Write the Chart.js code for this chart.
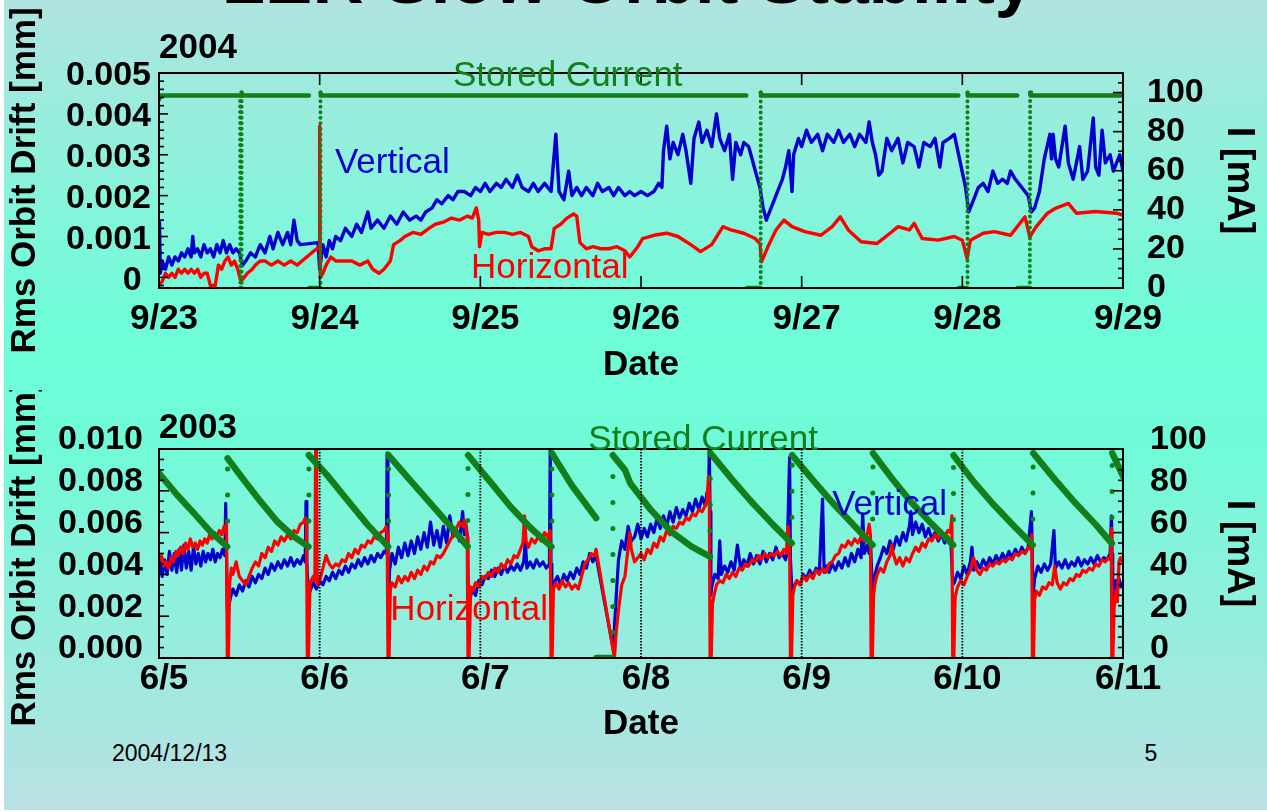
<!DOCTYPE html>
<html>
<head>
<meta charset="utf-8">
<script src="https://cdn.jsdelivr.net/npm/chart.js@4/dist/chart.umd.min.js"></script>
<style>
  html, body { margin: 0; padding: 0; }
  body { width: 1267px; height: 812px; overflow: hidden; position: relative; background: #ffffff;
         font-family: 'Liberation Sans', Arial, Helvetica, sans-serif; }
  #slide { position: absolute; left: 4px; top: 0; width: 1263px; height: 810px;
           background: linear-gradient(to bottom, #b0e4e0 0%, #6efdd8 40%, #70fbd8 55%, #bae0e4 100%); }
  #deco { position: absolute; left: 0; top: 0; }
  canvas { position: absolute; left: 0; }
</style>
</head>
<body>
<div id="slide"></div>
<svg id="deco" width="1267" height="812" xmlns="http://www.w3.org/2000/svg">
  <text x="628" y="2.5" text-anchor="middle" font-family="Liberation Sans, Arial, sans-serif" font-weight="bold" font-size="71" fill="#000">LER Slow Orbit Stability</text>
  <text x="112" y="761" font-family="Liberation Sans, Arial, sans-serif" font-size="23" fill="#000">2004/12/13</text>
  <text x="1151" y="761" text-anchor="middle" font-family="Liberation Sans, Arial, sans-serif" font-size="23" fill="#000">5</text>
</svg>
<canvas id="chart2004" width="1267" height="395" style="top:0px"></canvas>
<canvas id="chart2003" width="1267" height="360" style="top:390px"></canvas>
<script>
// ---- axis tick labels ----
const dates2004 = ['9/23', '9/24', '9/25', '9/26', '9/27', '9/28', '9/29'];
const dates2003 = ['6/5', '6/6', '6/7', '6/8', '6/9', '6/10', '6/11'];
const drift2004Ticks = ['0', '0.001', '0.002', '0.003', '0.004', '0.005'];
const drift2003Ticks = ['0.000', '0.002', '0.004', '0.006', '0.008', '0.010'];
const currentTicks = ['0', '20', '40', '60', '80', '100'];

// ---- 2004: [days since 9/23 00:00, value] ----
// stored current [mA]
const current2004 = [[0,96.5],[0.01,98.5],[0.505,98.5],[0.507,0],[0.512,0],[0.514,100],[0.52,98.5],[0.933,98.5],[0.934,null],[0.935,0],[1.003,0],[1.005,100],[1.01,98.5],[3.655,98.5],[3.657,null],[3.66,0],[3.742,0],[3.745,100],[3.75,98.5],[4.975,98.5],[4.976,null],[4.978,0],[5.03,0],[5.032,100],[5.037,98.5],[5.342,98.5],[5.343,null],[5.345,0],[5.42,0],[5.422,100],[5.427,98.5],[6.0,98.5]];

// rms vertical orbit drift [mm]
const vertical2004 = [[0,0.0004],[0.003,0.00135],[0.008,0.0001],[0.02,0.0004],[0.04,0.0002],[0.06,0.0005],[0.08,0.0003],[0.1,0.0005],[0.12,0.0004],[0.14,0.0006],[0.16,0.0005],[0.18,0.0007],[0.2,0.0005],[0.21,0.001],[0.22,0.0006],[0.24,0.0007],[0.26,0.0005],[0.28,0.0008],[0.3,0.0006],[0.32,0.0007],[0.34,0.0005],[0.36,0.0008],[0.38,0.0006],[0.4,0.0009],[0.42,0.0006],[0.44,0.0008],[0.46,0.0006],[0.48,0.0007],[0.5,0.0006],[0.52,0.0003],[0.54,0.0004],[0.57,0.0006],[0.6,0.0005],[0.63,0.0008],[0.66,0.0006],[0.69,0.001],[0.71,0.0007],[0.74,0.0011],[0.77,0.0008],[0.8,0.0011],[0.82,0.0008],[0.84,0.0014],[0.86,0.0009],[0.88,0.0008],[0.99,0.00085],
[1.0,0.0002],[1.02,0.0008],[1.04,0.0005],[1.06,0.0009],[1.08,0.0007],[1.1,0.001],[1.13,0.0009],[1.16,0.0012],[1.2,0.001],[1.23,0.0013],[1.26,0.0011],[1.3,0.0016],[1.32,0.0012],[1.36,0.0014],[1.4,0.0012],[1.44,0.0015],[1.48,0.0013],[1.52,0.0016],[1.56,0.0014],[1.6,0.0015],[1.63,0.0014],[1.66,0.0016],[1.7,0.0017],[1.73,0.0019],[1.76,0.0018],[1.8,0.002],[1.83,0.0019],[1.86,0.0021],[1.9,0.0021],[1.94,0.002],[1.97,0.0022],[2.0,0.0021],[2.03,0.0023],[2.06,0.0021],[2.1,0.0023],[2.13,0.0022],[2.16,0.0024],[2.2,0.0022],[2.23,0.0025],[2.26,0.0022],[2.3,0.0021],[2.33,0.0023],[2.36,0.0021],[2.4,0.0023],[2.44,0.0021],[2.47,0.0035],[2.49,0.0021],[2.52,0.0019],[2.55,0.0026],[2.57,0.002],[2.6,0.0022],[2.63,0.002],[2.66,0.0022],[2.7,0.002],[2.73,0.0023],[2.76,0.0021],[2.8,0.0022],[2.83,0.002],[2.86,0.0022],[2.9,0.002],[2.93,0.0021],[2.96,0.002],[3.0,0.0021],[3.04,0.002],[3.08,0.0021],[3.11,0.0023],[3.13,0.0022],
[3.14,0.0031],[3.16,0.0037],[3.18,0.0029],[3.2,0.0033],[3.23,0.003],[3.26,0.0035],[3.28,0.0031],[3.31,0.0023],[3.33,0.0034],[3.36,0.0038],[3.38,0.0033],[3.41,0.0036],[3.44,0.0032],[3.47,0.004],[3.49,0.0034],[3.52,0.0031],[3.55,0.0035],[3.57,0.0024],[3.59,0.0033],[3.62,0.003],[3.64,0.0033],[3.67,0.0032],
[3.74,0.0022],[3.76,0.0017],[3.78,0.0014],[3.8,0.0016],[3.83,0.0019],[3.86,0.0022],[3.88,0.0024],[3.9,0.0027],[3.92,0.0031],[3.94,0.0021],[3.95,0.003],[3.98,0.0034],[4.0,0.0032],[4.03,0.0036],[4.06,0.0033],[4.1,0.0035],[4.13,0.0031],[4.16,0.0035],[4.2,0.0033],[4.23,0.0036],[4.26,0.0033],[4.3,0.0035],[4.33,0.0032],[4.36,0.0035],[4.4,0.0033],[4.42,0.0038],[4.44,0.0033],[4.46,0.003],[4.48,0.0025],[4.5,0.0026],[4.53,0.0034],[4.56,0.0031],[4.6,0.0034],[4.63,0.0028],[4.66,0.0033],[4.7,0.0032],[4.73,0.0027],[4.76,0.0033],[4.8,0.0032],[4.83,0.0034],[4.86,0.0027],[4.88,0.0033],[4.92,0.0034],[4.95,0.0035],
[5.02,0.0022],[5.04,0.0016],[5.06,0.0018],[5.1,0.0022],[5.13,0.0023],[5.16,0.0021],[5.19,0.0026],[5.22,0.0023],[5.25,0.0024],[5.28,0.0023],[5.3,0.0026],[5.33,0.0024],[5.41,0.002],[5.43,0.0016],[5.45,0.0017],[5.48,0.0021],[5.51,0.0029],[5.545,0.0035],[5.555,0.0029],[5.565,0.0035],[5.58,0.0029],[5.6,0.0027],[5.64,0.0037],[5.66,0.0028],[5.69,0.0024],[5.73,0.0032],[5.75,0.0024],[5.78,0.0026],[5.815,0.0039],[5.83,0.0027],[5.85,0.0025],[5.87,0.0036],[5.89,0.0028],[5.92,0.003],[5.94,0.0026],[5.98,0.003],[6.0,0.0026]];

// rms horizontal orbit drift [mm]
const horizontal2004 = [[0,-0.0002],[0.02,-0.0001],[0.04,0.0001],[0.06,0.0],[0.08,0.0001],[0.1,0.0],[0.12,0.0002],[0.14,0.0001],[0.16,0.0002],[0.18,0.0001],[0.2,0.0002],[0.22,0.0001],[0.24,0.0002],[0.26,0.0],[0.28,0.0001],[0.3,0.0001],[0.32,-0.0002],[0.35,-0.0002],[0.37,0.0003],[0.39,0.0002],[0.41,0.0004],[0.43,0.0005],[0.45,0.0003],[0.47,0.0004],[0.49,0.0002],[0.51,-0.0001],[0.53,0.0],[0.55,0.0001],[0.58,0.0002],[0.6,0.0003],[0.63,0.0004],[0.66,0.0004],[0.7,0.0003],[0.74,0.0004],[0.78,0.0003],[0.82,0.0004],[0.86,0.0003],[0.89,0.0004],[0.95,0.0006],[0.998,0.00075],[1.0,0.0037],[1.004,0.0],[1.02,0.0001],[1.04,0.0003],[1.07,0.0005],[1.1,0.0004],[1.15,0.0004],[1.2,0.0004],[1.25,0.0003],[1.3,0.0004],[1.33,0.0002],[1.37,0.0001],[1.4,0.0002],[1.44,0.0004],[1.46,0.0008],[1.5,0.0009],[1.53,0.001],[1.58,0.0011],[1.63,0.00105],[1.68,0.0012],[1.72,0.0013],[1.77,0.00135],[1.82,0.00145],[1.87,0.0014],[1.92,0.0015],[1.95,0.00145],[1.975,0.0017],[1.99,0.0014],[1.995,0.00075],[2.01,0.0011],[2.05,0.00105],[2.1,0.0011],[2.15,0.0011],[2.2,0.00105],[2.25,0.0011],[2.3,0.001],[2.32,0.00075],[2.36,0.00065],[2.4,0.0007],[2.44,0.0007],[2.46,0.0012],[2.5,0.0013],[2.54,0.00145],[2.58,0.00155],[2.6,0.0015],[2.62,0.00085],[2.66,0.0007],[2.7,0.00075],[2.75,0.0007],[2.8,0.0007],[2.85,0.00075],[2.9,0.00065],[2.93,0.0005],[2.98,0.00075],[3.01,0.00095],[3.08,0.00103],[3.16,0.00108],[3.23,0.001],[3.31,0.0008],[3.37,0.00063],[3.44,0.0008],[3.51,0.00124],[3.56,0.00116],[3.64,0.00108],[3.71,0.00095],[3.74,0.00083],[3.75,0.00038],[3.79,0.00075],[3.84,0.00116],[3.89,0.0014],[3.94,0.00124],[4.02,0.00112],[4.12,0.00103],[4.19,0.00124],[4.24,0.00148],[4.29,0.00116],[4.37,0.00087],[4.47,0.00083],[4.55,0.00108],[4.6,0.00124],[4.67,0.00116],[4.7,0.00132],[4.75,0.00095],[4.85,0.00091],[4.95,0.001],[5.0,0.00091],[5.03,0.00046],[5.05,0.00091],[5.13,0.00108],[5.2,0.00112],[5.3,0.00103],[5.39,0.00148],[5.42,0.00099],[5.46,0.00124],[5.53,0.00157],[5.58,0.00169],[5.66,0.00181],[5.71,0.00157],[5.83,0.00161],[5.96,0.00157],[6.0,0.00152]];

// ---- 2003: [days since 6/5 00:00, value] ----
const current2003 = [[0,88.4],[0.113,78],[0.217,69.3],[0.32,60.5],[0.424,53.3],[0.427,95.5],[0.528,85.2],[0.633,74.8],[0.735,65.3],[0.839,58.1],[0.93,53.3],[0.933,97],[1.045,87.6],[1.172,75.6],[1.299,63.7],[1.426,53.3],[1.429,97],[1.553,86],[1.68,74.8],[1.807,63.7],[1.921,53.3],[1.924,97],[2.061,84.4],[2.188,72.4],[2.315,62.1],[2.442,53.3],[2.445,98],[2.568,82.8],[2.721,66.9],[2.722,null],[2.723,0],[2.822,0],[2.825,97],[2.9,90],[2.933,83.6],[3.06,70.9],[3.188,60.5],[3.315,53.3],[3.429,48.5],[3.432,98],[3.569,85.2],[3.696,74],[3.823,63.7],[3.938,54.9],[3.941,97],[4.078,84.4],[4.205,73.2],[4.332,62.9],[4.441,54.1],[4.444,98],[4.561,86],[4.688,74],[4.815,63.7],[4.942,54.1],[4.945,97],[5.07,84.4],[5.197,73.2],[5.324,62.9],[5.438,54.1],[5.441,98],[5.578,85.2],[5.705,74],[5.832,63.7],[5.93,54.8],[5.933,98],[6.0,87]];

const vertical2003 = [[0,0.0041],[0.01,0.0046],[0.02,0.0039],[0.035,0.0047],[0.05,0.004],[0.065,0.0051],[0.08,0.0042],[0.095,0.005],[0.11,0.0041],[0.125,0.0052],[0.14,0.0042],[0.155,0.0054],[0.17,0.0043],[0.185,0.0051],[0.2,0.0042],[0.215,0.0053],[0.23,0.0045],[0.245,0.005],[0.26,0.0044],[0.275,0.0051],[0.29,0.0046],[0.305,0.005],[0.32,0.0047],[0.335,0.0052],[0.35,0.0046],[0.365,0.005],[0.38,0.0048],[0.395,0.0052],[0.41,0.0049],[0.415,0.0074],[0.42,0.005],[0.425,0.0023],
[0.435,0.0025],[0.445,0.0029],[0.46,0.0033],[0.48,0.003],[0.5,0.0035],[0.52,0.0032],[0.54,0.0037],[0.56,0.0034],[0.58,0.0039],[0.6,0.0036],[0.62,0.004],[0.64,0.0038],[0.66,0.0043],[0.68,0.004],[0.7,0.0045],[0.72,0.0042],[0.74,0.0046],[0.76,0.0043],[0.78,0.0047],[0.8,0.0044],[0.82,0.0048],[0.84,0.0044],[0.86,0.0047],[0.88,0.0045],[0.9,0.0049],[0.91,0.0046],[0.915,0.0075],[0.92,0.0046],[0.93,0.003],
[0.94,0.0032],[0.96,0.0036],[0.98,0.0033],[1.0,0.0037],[1.02,0.0035],[1.04,0.0039],[1.06,0.0037],[1.08,0.0041],[1.1,0.0038],[1.12,0.0042],[1.14,0.004],[1.16,0.0044],[1.18,0.0041],[1.2,0.0045],[1.22,0.0043],[1.24,0.0047],[1.26,0.0044],[1.28,0.0048],[1.3,0.0045],[1.32,0.0049],[1.34,0.0046],[1.36,0.005],[1.38,0.0048],[1.4,0.0051],[1.415,0.005],[1.42,0.0098],[1.425,0.005],[1.43,0.003],
[1.435,0.0042],[1.45,0.005],[1.47,0.0045],[1.49,0.0053],[1.51,0.0048],[1.53,0.0055],[1.55,0.0049],[1.57,0.0056],[1.59,0.005],[1.61,0.0058],[1.63,0.0052],[1.65,0.006],[1.67,0.0053],[1.69,0.0065],[1.71,0.0054],[1.73,0.0061],[1.75,0.0053],[1.77,0.0063],[1.79,0.0055],[1.81,0.0068],[1.83,0.0058],[1.85,0.0062],[1.87,0.0056],[1.89,0.007],[1.9,0.0059],[1.91,0.0064],[1.92,0.0058],[1.925,0.003],
[1.935,0.0028],[1.95,0.0033],[1.97,0.003],[1.99,0.0037],[2.01,0.0035],[2.03,0.0039],[2.05,0.0038],[2.07,0.0042],[2.09,0.0039],[2.11,0.0043],[2.13,0.004],[2.15,0.0044],[2.17,0.0041],[2.19,0.0044],[2.21,0.0042],[2.23,0.0045],[2.25,0.0042],[2.27,0.0046],[2.28,0.0056],[2.29,0.0043],[2.31,0.0046],[2.33,0.0043],[2.35,0.0047],[2.37,0.0044],[2.39,0.0046],[2.41,0.0043],[2.43,0.0045],[2.435,0.01],[2.44,0.0045],[2.445,0.0032],
[2.46,0.0036],[2.48,0.0039],[2.5,0.0035],[2.52,0.004],[2.54,0.0037],[2.56,0.0041],[2.58,0.0038],[2.6,0.0043],[2.62,0.004],[2.64,0.0046],[2.66,0.0043],[2.68,0.005],[2.7,0.0046],[2.72,0.0049],[2.83,0.0003],
[2.835,0.0015],[2.85,0.0035],[2.86,0.0047],[2.88,0.0056],[2.9,0.0052],[2.92,0.0063],[2.94,0.0056],[2.96,0.0058],[2.98,0.0064],[3.0,0.0057],[3.02,0.0062],[3.04,0.0058],[3.06,0.0064],[3.08,0.006],[3.1,0.0067],[3.12,0.0062],[3.14,0.0068],[3.16,0.0063],[3.18,0.007],[3.2,0.0065],[3.22,0.0072],[3.24,0.0067],[3.26,0.0071],[3.28,0.0068],[3.3,0.0074],[3.32,0.007],[3.34,0.0076],[3.36,0.0071],[3.38,0.0077],[3.4,0.0073],[3.41,0.0079],[3.42,0.0074],[3.425,0.01],[3.43,0.007],[3.435,0.003],
[3.44,0.0034],[3.46,0.004],[3.48,0.0038],[3.49,0.0056],[3.5,0.004],[3.52,0.0044],[3.54,0.0041],[3.56,0.0046],[3.58,0.0042],[3.6,0.0054],[3.62,0.0043],[3.64,0.0047],[3.66,0.0044],[3.68,0.005],[3.7,0.0045],[3.72,0.0049],[3.74,0.0045],[3.76,0.0051],[3.78,0.0046],[3.8,0.005],[3.82,0.0047],[3.84,0.0053],[3.86,0.0048],[3.88,0.005],[3.9,0.0047],[3.91,0.0051],[3.925,0.0096],[3.93,0.0048],[3.94,0.003],
[3.95,0.0034],[3.97,0.0037],[3.99,0.0035],[4.01,0.004],[4.03,0.0038],[4.05,0.0042],[4.07,0.0039],[4.09,0.0043],[4.11,0.0041],[4.13,0.0076],[4.14,0.0041],[4.15,0.0044],[4.17,0.0041],[4.19,0.0045],[4.21,0.0042],[4.23,0.0046],[4.25,0.0043],[4.27,0.0048],[4.29,0.0044],[4.31,0.005],[4.33,0.0046],[4.35,0.0052],[4.37,0.0048],[4.38,0.0069],[4.39,0.005],[4.41,0.0054],[4.42,0.005],[4.43,0.0053],[4.44,0.0032],
[4.45,0.0038],[4.47,0.0044],[4.49,0.0048],[4.51,0.0053],[4.53,0.005],[4.55,0.0056],[4.57,0.0052],[4.59,0.0058],[4.61,0.0054],[4.63,0.006],[4.65,0.0056],[4.67,0.0063],[4.68,0.007],[4.69,0.0059],[4.71,0.0065],[4.73,0.006],[4.75,0.0064],[4.77,0.0058],[4.79,0.0062],[4.81,0.0057],[4.83,0.006],[4.85,0.0056],[4.87,0.0059],[4.89,0.0055],[4.91,0.0058],[4.93,0.0054],[4.94,0.0035],
[4.95,0.0036],[4.97,0.0041],[4.99,0.0038],[5.01,0.0044],[5.03,0.004],[5.05,0.0046],[5.06,0.0053],[5.07,0.0042],[5.09,0.0046],[5.11,0.0043],[5.13,0.0047],[5.15,0.0044],[5.17,0.0048],[5.19,0.0045],[5.21,0.0049],[5.23,0.0046],[5.25,0.005],[5.27,0.0047],[5.29,0.0051],[5.31,0.0048],[5.33,0.0052],[5.35,0.0049],[5.37,0.0053],[5.39,0.005],[5.41,0.0053],[5.43,0.007],[5.435,0.0052],[5.44,0.003],
[5.45,0.0038],[5.47,0.0044],[5.49,0.0041],[5.51,0.0045],[5.53,0.0042],[5.55,0.0045],[5.57,0.0061],[5.58,0.0043],[5.6,0.0046],[5.62,0.0043],[5.64,0.0047],[5.66,0.0043],[5.68,0.0046],[5.7,0.0044],[5.72,0.0048],[5.74,0.0044],[5.76,0.0047],[5.78,0.0045],[5.8,0.0048],[5.82,0.0045],[5.84,0.0049],[5.86,0.0046],[5.88,0.0048],[5.9,0.0047],[5.92,0.005],[5.928,0.0068],[5.932,0.005],[5.936,0.003],
[5.945,0.0026],[5.955,0.0037],[5.965,0.0033],[5.975,0.0038],[5.985,0.0034],[6.0,0.0036]];

const horizontal2003 = [[0,0.0047],[0.015,0.0049],[0.03,0.0044],[0.045,0.0046],[0.06,0.0043],[0.075,0.0048],[0.09,0.0046],[0.105,0.0051],[0.12,0.0049],[0.135,0.0053],[0.15,0.005],[0.165,0.0055],[0.18,0.0052],[0.195,0.0057],[0.21,0.0053],[0.225,0.0055],[0.24,0.0052],[0.255,0.0056],[0.27,0.0054],[0.285,0.0057],[0.3,0.0055],[0.315,0.0059],[0.33,0.0057],[0.345,0.006],[0.36,0.0058],[0.375,0.0061],[0.39,0.0059],[0.405,0.0063],[0.415,0.006],[0.42,0.0064],[0.425,0],[0.432,0],[0.44,0.0036],
[0.45,0.0043],[0.46,0.004],[0.48,0.0046],[0.5,0.0039],[0.52,0.0037],[0.54,0.0035],[0.56,0.0039],[0.58,0.0043],[0.6,0.0046],[0.62,0.0044],[0.64,0.005],[0.66,0.0048],[0.68,0.0053],[0.7,0.0051],[0.72,0.0056],[0.74,0.0054],[0.76,0.0058],[0.78,0.0056],[0.8,0.0059],[0.82,0.0057],[0.84,0.0061],[0.86,0.006],[0.88,0.0064],[0.9,0.0065],[0.91,0.0067],[0.918,0.0066],[0.923,0],[0.93,0],[0.94,0.0036],[0.96,0.0039],[0.97,0.0037],[0.975,0.0102],[0.98,0.0102],[0.985,0.0035],[1.0,0.0037],
[1.02,0.0043],[1.04,0.0049],[1.06,0.0045],[1.08,0.0043],[1.1,0.0045],[1.12,0.0044],[1.14,0.0047],[1.16,0.0046],[1.18,0.005],[1.2,0.0048],[1.22,0.0052],[1.24,0.005],[1.26,0.0054],[1.28,0.0053],[1.3,0.0056],[1.32,0.0055],[1.34,0.0058],[1.36,0.0057],[1.38,0.006],[1.4,0.0061],[1.415,0.0063],[1.42,0.006],[1.425,0],[1.432,0],[1.44,0.0033],
[1.45,0.0036],[1.47,0.0034],[1.49,0.0039],[1.51,0.0036],[1.53,0.0039],[1.55,0.0037],[1.57,0.0041],[1.59,0.0038],[1.61,0.0042],[1.63,0.004],[1.65,0.0044],[1.67,0.0042],[1.69,0.0046],[1.71,0.0045],[1.73,0.0049],[1.75,0.0048],[1.77,0.005],[1.79,0.0053],[1.81,0.0056],[1.83,0.0059],[1.85,0.0062],[1.87,0.0065],[1.89,0.0063],[1.9,0.0066],[1.91,0.0063],[1.918,0.0058],[1.923,0],[1.93,0],[1.94,0.0034],
[1.95,0.0032],[1.97,0.0036],[1.99,0.0034],[2.01,0.0039],[2.03,0.0038],[2.05,0.0041],[2.07,0.0039],[2.09,0.0043],[2.11,0.0041],[2.13,0.0045],[2.15,0.0043],[2.17,0.0047],[2.19,0.0045],[2.21,0.0049],[2.23,0.0048],[2.25,0.0052],[2.265,0.0055],[2.275,0.0068],[2.285,0.0056],[2.3,0.0053],[2.32,0.0057],[2.34,0.0055],[2.36,0.0058],[2.38,0.0056],[2.4,0.006],[2.42,0.0058],[2.435,0.0061],[2.44,0],[2.447,0],[2.455,0.0033],
[2.47,0.0036],[2.49,0.0033],[2.51,0.0037],[2.53,0.0034],[2.55,0.0036],[2.57,0.0033],[2.59,0.0035],[2.61,0.0033],[2.63,0.0039],[2.65,0.0045],[2.67,0.0047],[2.69,0.005],[2.71,0.0049],[2.72,0.0052],[2.835,0],
[2.845,0.0012],[2.86,0.0023],[2.88,0.0035],[2.9,0.0039],[2.92,0.0053],[2.93,0.006],[2.94,0.0052],[2.96,0.0046],[2.98,0.0048],[3.0,0.005],[3.02,0.0047],[3.04,0.0052],[3.06,0.005],[3.08,0.0055],[3.1,0.0053],[3.12,0.0058],[3.14,0.0056],[3.16,0.0061],[3.18,0.0059],[3.2,0.0063],[3.22,0.0062],[3.24,0.0065],[3.26,0.0064],[3.28,0.0067],[3.3,0.0066],[3.32,0.0069],[3.34,0.0068],[3.36,0.0071],[3.38,0.007],[3.4,0.0073],[3.41,0.0075],[3.42,0.0087],[3.425,0.0078],[3.43,0],[3.437,0],[3.445,0.0026],
[3.455,0.003],[3.47,0.0035],[3.49,0.0037],[3.51,0.0036],[3.53,0.004],[3.55,0.0038],[3.57,0.0041],[3.59,0.0039],[3.61,0.0043],[3.63,0.0042],[3.65,0.0045],[3.67,0.0044],[3.69,0.0047],[3.71,0.0046],[3.73,0.0049],[3.75,0.0047],[3.77,0.005],[3.79,0.0048],[3.81,0.005],[3.83,0.0049],[3.85,0.0051],[3.87,0.0049],[3.89,0.0052],[3.905,0.005],[3.915,0.0063],[3.925,0.0052],[3.93,0],[3.937,0],[3.945,0.003],
[3.955,0.0034],[3.97,0.0037],[3.99,0.0035],[4.01,0.0039],[4.03,0.0037],[4.05,0.004],[4.07,0.0038],[4.09,0.0042],[4.11,0.004],[4.13,0.0043],[4.15,0.0041],[4.17,0.0045],[4.19,0.0046],[4.21,0.0049],[4.23,0.005],[4.25,0.0054],[4.27,0.0053],[4.29,0.0056],[4.31,0.0054],[4.33,0.0057],[4.35,0.0055],[4.37,0.0058],[4.39,0.0056],[4.41,0.006],[4.42,0.0064],[4.428,0.0059],[4.432,0],[4.44,0],[4.448,0.003],
[4.455,0.0035],[4.47,0.004],[4.49,0.0043],[4.51,0.0041],[4.53,0.0046],[4.55,0.0049],[4.56,0.0054],[4.57,0.005],[4.59,0.0045],[4.61,0.0048],[4.63,0.0044],[4.65,0.0048],[4.67,0.0046],[4.69,0.005],[4.71,0.0053],[4.73,0.0051],[4.75,0.0055],[4.77,0.0053],[4.79,0.0057],[4.81,0.0056],[4.83,0.0059],[4.85,0.0057],[4.87,0.006],[4.89,0.0058],[4.91,0.0061],[4.925,0.006],[4.935,0.0068],[4.94,0],[4.947,0],[4.955,0.0029],
[4.97,0.0034],[4.99,0.0037],[5.01,0.0035],[5.03,0.0039],[5.05,0.0042],[5.07,0.0048],[5.09,0.0042],[5.11,0.004],[5.13,0.0043],[5.15,0.0042],[5.17,0.0045],[5.19,0.0044],[5.21,0.0046],[5.23,0.0045],[5.25,0.0047],[5.27,0.0046],[5.29,0.0048],[5.31,0.0047],[5.33,0.005],[5.35,0.0049],[5.37,0.0051],[5.39,0.005],[5.41,0.0053],[5.425,0.0052],[5.432,0.0059],[5.436,0],[5.443,0],[5.45,0.0028],
[5.46,0.0032],[5.48,0.003],[5.5,0.0034],[5.52,0.0033],[5.54,0.0036],[5.56,0.0035],[5.575,0.0044],[5.59,0.0036],[5.61,0.0033],[5.63,0.0036],[5.65,0.0035],[5.67,0.0038],[5.69,0.0037],[5.71,0.004],[5.73,0.0039],[5.75,0.0042],[5.77,0.0041],[5.79,0.0043],[5.81,0.0042],[5.83,0.0045],[5.85,0.0044],[5.87,0.0047],[5.89,0.0046],[5.91,0.0048],[5.922,0.0047],[5.927,0.0062],[5.93,0],[5.937,0],[5.945,0.0024],
[5.955,0.0032],[5.965,0.0027],[5.975,0.0046],[5.985,0.0048],[6.0,0.0046]];

// ---- styling ----
const FONT = "'Liberation Sans', Arial, Helvetica, sans-serif";
const BLUE = '#0000cc';
const RED = '#ff0000';
const GREEN = '#137f1b';
Chart.defaults.font.family = FONT;
Chart.defaults.color = '#000';

// label lookup for major ticks only; minor ticks stay unlabeled
function majorLabel(value, step, labels) {
  const r = value / step;
  const i = Math.round(r);
  if (Math.abs(r - i) > 1e-6 || i < 0 || i >= labels.length) return '';
  return labels[i];
}

// a near-vertical step in the current trace (injection / beam loss) is drawn dotted
function isStep(ctx) {
  const dx = Math.abs(ctx.p1.parsed.x - ctx.p0.parsed.x);
  const dy = Math.abs(ctx.p1.parsed.y - ctx.p0.parsed.y);
  return dx < 0.004 && dy > 3;
}

// labels placed in data coordinates
const chartText = {
  id: 'chartText',
  afterDatasetsDraw(chart, args, opts) {
    const ctx = chart.ctx;
    ctx.save();
    ctx.textAlign = 'left';
    ctx.textBaseline = 'alphabetic';
    for (const it of opts.items) {
      const x = chart.scales.x.getPixelForValue(it.x);
      const y = chart.scales[it.axis || 'y'].getPixelForValue(it.y);
      ctx.font = (it.bold ? 'bold ' : '') + it.size + 'px ' + FONT;
      ctx.fillStyle = it.color;
      ctx.fillText(it.text, x, y);
    }
    ctx.restore();
  }
};

// inward tick marks, dotted day lines and the plot frame
const frameTicks = {
  id: 'frameTicks',
  afterDatasetsDraw(chart, args, opts) {
    const {ctx, chartArea: a} = chart;
    ctx.save();
    ctx.strokeStyle = '#000';
    for (const spec of opts.axes) {
      const sc = chart.scales[spec.id];
      for (const tk of sc.ticks) {
        const p = sc.getPixelForValue(tk.value);
        const r = tk.value / spec.major;
        const len = Math.abs(r - Math.round(r)) < 1e-6 ? spec.long : spec.short;
        ctx.lineWidth = 1.6;
        ctx.setLineDash([]);
        ctx.beginPath();
        if (spec.side === 'left') {
          ctx.moveTo(a.left, p); ctx.lineTo(a.left + len, p);
        } else if (spec.side === 'right') {
          ctx.moveTo(a.right, p); ctx.lineTo(a.right - len, p);
        } else if (spec.side === 'topBottom') {
          ctx.moveTo(p, a.top); ctx.lineTo(p, a.top + len);
          ctx.moveTo(p, a.bottom); ctx.lineTo(p, a.bottom - len);
        } else if (spec.side === 'grid') {
          if (tk.value <= sc.min || tk.value >= sc.max) continue;
          ctx.lineWidth = 1.8;
          ctx.setLineDash([1.5, 1.5]);
          ctx.moveTo(p, a.top); ctx.lineTo(p, a.bottom);
        }
        ctx.stroke();
      }
    }
    ctx.setLineDash([]);
    ctx.lineWidth = 2;
    ctx.strokeRect(a.left, a.top, a.right - a.left, a.bottom - a.top);
    ctx.restore();
  }
};

function traceDataset(label, data, color, axis, width) {
  return {
    label, data, yAxisID: axis,
    borderColor: color, borderWidth: width,
    pointRadius: 0, tension: 0, spanGaps: false,
    borderJoinStyle: 'round', borderCapStyle: 'round'
  };
}

function currentDataset(data, width, dotWidth, dotGap) {
  return {
    label: 'Stored Current', data, yAxisID: 'y1',
    borderColor: GREEN, borderWidth: width,
    pointRadius: 0, tension: 0, spanGaps: false,
    borderJoinStyle: 'round', borderCapStyle: 'round',
    segment: {
      borderDash: ctx => isStep(ctx) ? [0, dotGap] : undefined,
      borderWidth: ctx => isStep(ctx) ? dotWidth : undefined
    }
  };
}

function buildChart(canvasId, cfg) {
  const titleFont = {size: 35, weight: 'bold', lineHeight: 1.2};
  return new Chart(document.getElementById(canvasId), {
    type: 'line',
    data: {
      datasets: [
        currentDataset(cfg.current, cfg.currentWidth, cfg.dotWidth, cfg.dotGap),
        traceDataset('Horizontal', cfg.horizontal, RED, 'y', cfg.traceWidth),
        traceDataset('Vertical', cfg.vertical, BLUE, 'y', cfg.traceWidth)
      ]
    },
    options: {
      responsive: false,
      animation: false,
      devicePixelRatio: 1,
      events: [],
      layout: {padding: {top: cfg.padTop, left: 0, right: 0, bottom: 0}},
      plugins: {
        legend: {display: false},
        tooltip: {enabled: false},
        chartText: {items: cfg.texts},
        frameTicks: {axes: cfg.tickSpecs}
      },
      scales: {
        x: {
          type: 'linear', min: 0, max: 6, offset: false,
          afterFit: s => { s.height = cfg.xHeight; },
          grid: {display: false, drawTicks: false},
          border: {display: false},
          ticks: {
            stepSize: 1, autoSkip: false, maxRotation: 0, padding: cfg.xPad, labelOffset: cfg.xLabelShift,
            font: {size: 35, weight: 'bold'},
            callback: v => majorLabel(v, 1, cfg.dates)
          },
          title: {display: true, text: 'Date', font: titleFont, padding: {top: 0, bottom: cfg.dateTitlePad}}
        },
        y: {
          position: 'left', min: cfg.driftMin, max: cfg.driftMax,
          afterFit: s => { s.width = 159; },
          grid: {display: false, drawTicks: false},
          border: {display: false},
          ticks: {
            stepSize: cfg.driftMinor, autoSkip: false, includeBounds: false, maxTicksLimit: 1000,
            padding: cfg.leftPad, labelOffset: cfg.yLabelShift,
            font: {size: 34, weight: 'bold'},
            callback: v => { const s = majorLabel(v, cfg.driftMajor, cfg.driftTicks); return s === '0' ? '0 ' : s; }
          },
          title: {display: true, text: 'Rms Orbit Drift [mm]', font: titleFont, padding: {top: 4.5, bottom: 0}}
        },
        y1: {
          position: 'right', min: 0, max: cfg.currentMax,
          afterFit: s => { s.width = 144; },
          grid: {display: false, drawTicks: false},
          border: {display: false},
          ticks: {
            stepSize: 5, autoSkip: false, includeBounds: false, maxTicksLimit: 1000,
            padding: cfg.rightPad, labelOffset: cfg.y1LabelShift,
            font: {size: 34, weight: 'bold'},
            callback: v => majorLabel(v, 20, currentTicks)
          },
          title: {display: true, text: 'I [mA]', font: {size: 38, weight: 'bold', lineHeight: 1.2}, padding: {top: 6, bottom: 0}}
        }
      }
    },
    plugins: [frameTicks, chartText]
  });
}

buildChart('chart2004', {
  current: current2004, vertical: vertical2004, horizontal: horizontal2004,
  currentWidth: 4.5, dotWidth: 4, dotGap: 5.5, traceWidth: 3.4,
  dates: dates2004, driftTicks: drift2004Ticks,
  driftMin: -0.00026, driftMax: 0.005, driftMinor: 0.0002, driftMajor: 0.001, currentMax: 110,
  padTop: 73, xHeight: 107, xPad: 10, xLabelShift: 5, dateTitlePad: 9,
  leftPad: 8, rightPad: 24, yLabelShift: 3, y1LabelShift: 0,
  tickSpecs: [
    {id: 'y', side: 'left', major: 0.001, long: 9, short: 5},
    {id: 'y1', side: 'right', major: 20, long: 10, short: 5},
    {id: 'x', side: 'topBottom', major: 1, long: 12, short: 12}
  ],
  texts: [
    {text: '2004', x: 0, y: 0.00536, size: 35, bold: true, color: '#000'},
    {text: 'Stored Current', x: 1.83, y: 0.00468, size: 35, color: GREEN},
    {text: 'Vertical', x: 1.095, y: 0.00255, size: 35, color: BLUE},
    {text: 'Horizontal', x: 1.942, y: -0.000015, size: 35, color: RED}
  ]
});

buildChart('chart2003', {
  current: current2003, vertical: vertical2003, horizontal: horizontal2003,
  currentWidth: 6.5, dotWidth: 5, dotGap: 26, traceWidth: 3.2,
  dates: dates2003, driftTicks: drift2003Ticks,
  driftMin: 0, driftMax: 0.010, driftMinor: 0.0005, driftMajor: 0.002, currentMax: 100,
  padTop: 59, xHeight: 92, xPad: 0, xLabelShift: 5, dateTitlePad: 5,
  leftPad: 16, rightPad: 27, yLabelShift: -9, y1LabelShift: -9,
  tickSpecs: [
    {id: 'y', side: 'left', major: 0.002, long: 10, short: 5},
    {id: 'y1', side: 'right', major: 20, long: 10, short: 5},
    {id: 'x', side: 'grid', major: 1, long: 0, short: 0}
  ],
  texts: [
    {text: '2003', x: 0, y: 0.01053, size: 35, bold: true, color: '#000'},
    {text: 'Stored Current', x: 2.672, y: 0.00997, size: 35, color: GREEN},
    {text: 'Vertical', x: 4.19, y: 0.00686, size: 35, color: BLUE},
    {text: 'Horizontal', x: 1.44, y: 0.00183, size: 35, color: RED}
  ]
});
</script>
</body>
</html>
